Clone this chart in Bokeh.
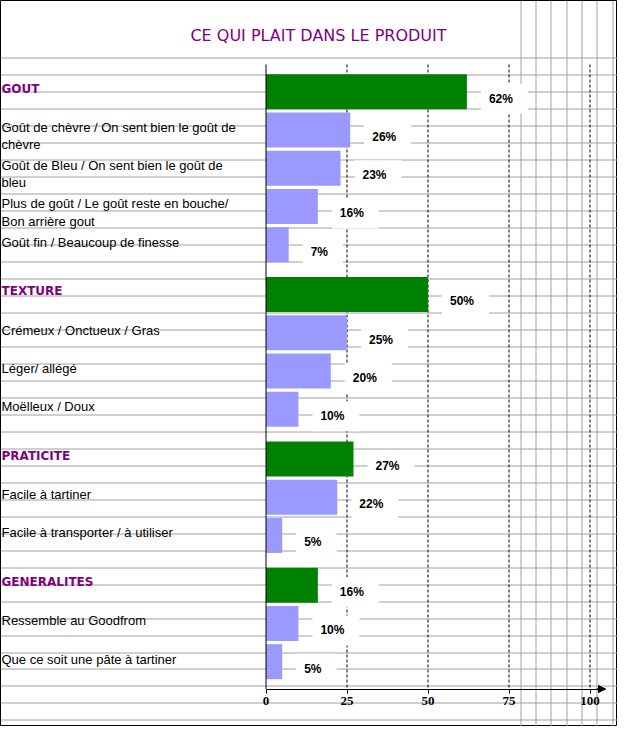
import numpy as np
from bokeh.plotting import figure
from bokeh.models import (Range1d, LinearAxis, FixedTicker, Arrow, NormalHead,
                          Label, ColumnDataSource)
from bokeh.core.properties import value
from bokeh.embed import file_html
from bokeh.resources import INLINE

# ---------------- data ----------------
title_text = "CE QUI PLAIT DANS LE PRODUIT"
groups = ["GOUT", "TEXTURE", "PRATICITE", "GENERALITES"]
group_values = [62, 50, 27, 16]

gout_items = ["Goût de chèvre / On sent bien le goût de\nchèvre",
              "Goût de Bleu / On sent bien le goût de\nbleu",
              "Plus de goût / Le goût reste en bouche/\nBon arrière gout",
              "Goût fin / Beaucoup de finesse"]
gout_values = [26, 23, 16, 7]

texture_items = ["Crémeux / Onctueux / Gras", "Léger/ allégé", "Moëlleux / Doux"]
texture_values = [25, 20, 10]

praticite_items = ["Facile à tartiner", "Facile à transporter / à utiliser"]
praticite_values = [22, 5]

generalites_items = ["Ressemble au Goodfrom", "Que ce soit une pâte à tartiner"]
generalites_values = [10, 5]

x_ticks = [0, 25, 50, 75, 100]

# ---------------- layout constants (pixels) ----------------
W, H = 617, 726
X0 = 265.5      # pixel of value 0
PX = 3.24       # pixels per percent
Y0 = 91.2       # pixel of first bar centre
SLOT = 38.25    # pixels per category
GAP = 11.5      # extra pixels between groups
BAR_H = 35
AX_TOP = 64
AX_Y = 688.5
GREEN = "#008000"
LIGHT = "#9999FF"
PURPLE = "#800080"
GRIDC = "#a0a0a0"


def px2x(px):
    return (px - X0) / PX


items_by_group = [(gout_items, gout_values), (texture_items, texture_values),
                  (praticite_items, praticite_values),
                  (generalites_items, generalites_values)]

g_lab, g_val, g_y = [], [], []
i_lab, i_val, i_y = [], [], []
idx = 0
for g, (name, gv, (items, vals)) in enumerate(zip(groups, group_values, items_by_group)):
    g_lab.append(name); g_val.append(gv); g_y.append(Y0 + SLOT * idx + GAP * g)
    idx += 1
    for it, v in zip(items, vals):
        i_lab.append(it); i_val.append(v); i_y.append(Y0 + SLOT * idx + GAP * g)
        idx += 1

gsrc = ColumnDataSource(dict(label=g_lab, v=g_val, y=g_y,
                             pct=[f"{v}%" for v in g_val]))
isrc = ColumnDataSource(dict(label=i_lab, v=i_val, y=i_y,
                             pct=[f"{v}%" for v in i_val]))

p = figure(width=W, height=H, x_range=Range1d(px2x(0), px2x(W)),
           y_range=Range1d(H, 0), x_axis_type=None, y_axis_type=None,
           toolbar_location=None, output_backend="svg", min_border=0,
           outline_line_color="black", outline_line_width=1,
           background_fill_color="white")

# spreadsheet grid lines
row_ys = np.floor(57.7 + 16.98 * np.arange(40)) + 0.5
p.segment(x0=px2x(0), x1=px2x(W), y0=row_ys, y1=row_ys, line_color=GRIDC, line_width=1)
col_xs = px2x(np.floor(520.3 + 15.3 * np.arange(7)) + 0.5)
p.segment(x0=col_xs, x1=col_xs, y0=0, y1=H, line_color=GRIDC, line_width=1)

# dashed value grid lines
p.segment(x0=x_ticks[1:], x1=x_ticks[1:], y0=AX_TOP, y1=AX_Y,
          line_color="black", line_dash="3 2", line_width=1)

# bars
p.hbar(y="y", left=0, right="v", height=BAR_H, fill_color=GREEN, line_color=None, source=gsrc)
p.hbar(y="y", left=0, right="v", height=BAR_H, fill_color=LIGHT, line_color=None, source=isrc)

# vertical category axis line
p.segment(x0=[0], x1=[0], y0=[AX_TOP], y1=[AX_Y], line_color="black", line_width=1)

# x axis
xaxis = LinearAxis(fixed_location=AX_Y, bounds=(0, px2x(604.5)),
                   ticker=FixedTicker(ticks=x_ticks))
xaxis.axis_line_color = "black"
xaxis.major_tick_out = 4
xaxis.major_tick_in = 0
xaxis.minor_tick_out = 0
xaxis.minor_tick_in = 0
xaxis.major_label_text_font = "Liberation Serif"
xaxis.major_label_text_font_style = "bold"
xaxis.major_label_text_font_size = "13px"
xaxis.major_label_text_color = "black"
xaxis.major_label_standoff = 4
p.add_layout(xaxis, "below")
p.add_layout(Arrow(end=NormalHead(size=7, fill_color="black", line_color="black"),
                   x_start=px2x(596), x_end=px2x(605), y_start=AX_Y, y_end=AX_Y,
                   line_color="black", line_width=1))

# category labels
p.text(x=px2x(1), y="y", text="label", source=gsrc, text_font=value("DejaVu Sans"),
       text_font_style="bold", text_font_size="12px", text_color=PURPLE,
       text_baseline="top", text_align="left", y_offset=-10)
p.text(x=px2x(1), y="y", text="label", source=isrc, text_font=value("Liberation Sans"),
       text_font_size="13px", text_color="black", text_line_height=1.15,
       text_baseline="top", text_align="left", y_offset=-10)

# value labels
for src in (gsrc, isrc):
    p.text(x="v", y="y", text="pct", source=src, text_font=value("Liberation Sans"),
           text_font_style="bold", text_font_size="12px", text_color="black",
           text_baseline="middle", text_align="left", x_offset=14, y_offset=7,
           background_fill_color="white", padding=(8, 15, 8, 8))

# title
p.add_layout(Label(x=px2x(318), y=34.5, text=title_text, text_align="center",
                   text_baseline="middle", text_color=PURPLE, text_font="DejaVu Sans",
                   text_font_size="16px"))

open("out.html", "w").write(file_html(p, INLINE))
